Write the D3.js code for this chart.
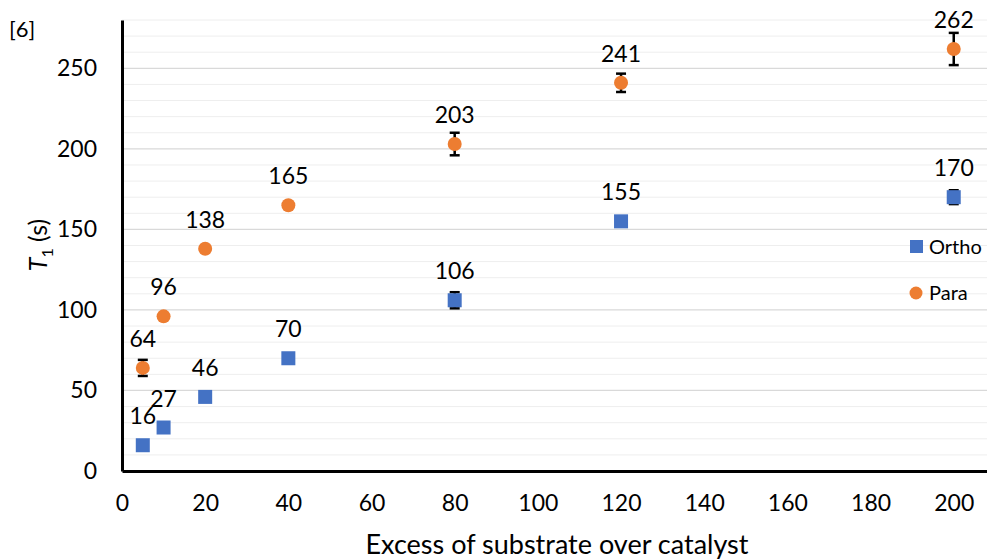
<!DOCTYPE html>
<html><head><meta charset="utf-8">
<script src="https://cdn.jsdelivr.net/npm/d3@7"></script>
<style>body{margin:0;background:#fff}svg{display:block;font-family:Lato,"Noto Sans",sans-serif}</style>
</head><body><svg id="c" width="987" height="560"></svg>
<script>
const xValues = [5, 10, 20, 40, 80, 120, 200];
const orthoValues = [16, 27, 46, 70, 106, 155, 170];
const orthoErrors = [0, 0, 0, 0, 5, 0, 4.3];
const paraValues = [64, 96, 138, 165, 203, 241, 262];
const paraErrors = [5, 0, 0, 0, 7, 5.7, 10];
const xTicks = [0, 20, 40, 60, 80, 100, 120, 140, 160, 180, 200];
const yTicks = [0, 50, 100, 150, 200, 250];

const svg = d3.select("#c");
const x = d3.scaleLinear().domain([0, 208]).range([122, 987]);
const y = d3.scaleLinear().domain([0, 280]).range([471, 20]);

// minor grid
svg.append("g").selectAll("line").data(d3.range(10, 281, 10).filter(v => v % 50 !== 0))
  .join("line").attr("x1", 122).attr("x2", 987).attr("y1", d => y(d)).attr("y2", d => y(d))
  .attr("stroke", "#eeeeee").attr("stroke-width", 1);
// major grid
svg.append("g").selectAll("line").data(yTicks.filter(v => v > 0))
  .join("line").attr("x1", 122).attr("x2", 987).attr("y1", d => y(d)).attr("y2", d => y(d))
  .attr("stroke", "#d9d9d9").attr("stroke-width", 1.3);

// axes
const xAxis = svg.append("g").attr("transform", "translate(0,471)")
  .call(d3.axisBottom(x).tickValues(xTicks).tickSize(0).tickPadding(24));
xAxis.select(".domain").attr("stroke", "#000").attr("stroke-width", 3);
xAxis.selectAll("text").attr("font-size", 23).attr("fill", "#000").attr("font-family", "Lato");

const yAxis = svg.append("g").attr("transform", "translate(122,0)")
  .call(d3.axisLeft(y).tickValues(yTicks).tickSize(0).tickPadding(25));
yAxis.select(".domain").attr("stroke", "#000").attr("stroke-width", 3);
yAxis.selectAll("text").attr("font-size", 23).attr("fill", "#000").attr("font-family", "Lato");

function errBars(vals, errs) {
  const g = svg.append("g").attr("stroke", "#000").attr("stroke-width", 2.5);
  vals.forEach((v, i) => {
    const e = errs[i];
    if (!e) return;
    const cx = x(xValues[i]);
    g.append("line").attr("x1", cx).attr("x2", cx).attr("y1", y(v - e)).attr("y2", y(v + e));
    g.append("line").attr("x1", cx - 5).attr("x2", cx + 5).attr("y1", y(v - e)).attr("y2", y(v - e));
    g.append("line").attr("x1", cx - 5).attr("x2", cx + 5).attr("y1", y(v + e)).attr("y2", y(v + e));
  });
}
errBars(orthoValues, orthoErrors);
errBars(paraValues, paraErrors);

const blue = "#4472C4", orange = "#ED7D31";
svg.append("g").selectAll("rect").data(orthoValues).join("rect")
  .attr("x", (d, i) => x(xValues[i]) - 7).attr("y", d => y(d) - 7)
  .attr("width", 14).attr("height", 14).attr("fill", blue);
svg.append("g").selectAll("circle").data(paraValues).join("circle")
  .attr("cx", (d, i) => x(xValues[i])).attr("cy", d => y(d)).attr("r", 7).attr("fill", orange);

// data labels
function labels(vals) {
  svg.append("g").selectAll("text").data(vals).join("text")
    .attr("x", (d, i) => x(xValues[i])).attr("y", d => y(d) - 21)
    .attr("text-anchor", "middle").attr("font-size", 23).attr("fill", "#000")
    .text(d => d);
}
labels(orthoValues);
labels(paraValues);

// legend
svg.append("rect").attr("x", 910).attr("y", 240).attr("width", 13).attr("height", 13).attr("fill", blue);
svg.append("text").attr("x", 929).attr("y", 254).attr("font-size", 20).text("Ortho");
svg.append("circle").attr("cx", 916).attr("cy", 293).attr("r", 6.5).attr("fill", orange);
svg.append("text").attr("x", 929).attr("y", 300).attr("font-size", 20).text("Para");

// titles
svg.append("text").attr("x", 557).attr("y", 554).attr("text-anchor", "middle").attr("font-size", 27)
  .text("Excess of substrate over catalyst");
const yt = svg.append("text").attr("transform", "translate(47,245) rotate(-90)")
  .attr("text-anchor", "middle").attr("font-size", 25);
yt.append("tspan").attr("font-style", "italic").text("T");
yt.append("tspan").attr("font-size", 16).attr("dy", 6).text("1");
yt.append("tspan").attr("dy", -6).text(" (s)");

svg.append("text").attr("x", 9).attr("y", 37).attr("font-size", 22).text("[6]");
</script></body></html>
